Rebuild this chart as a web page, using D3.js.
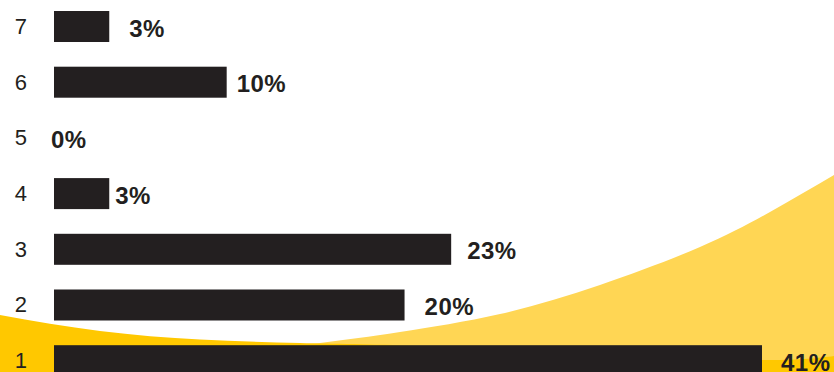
<!DOCTYPE html>
<html>
<head>
<meta charset="utf-8">
<script src="https://cdn.jsdelivr.net/npm/d3@7"></script>
<style>
  html, body { margin: 0; padding: 0; background: #ffffff; }
  svg { display: block; }
</style>
</head>
<body>
<svg id="chart" width="834" height="372"></svg>
<script>
// ---- data ----
const categories = ["7", "6", "5", "4", "3", "2", "1"];
const values = [3.2, 10, 0, 3.2, 23, 20.3, 41];          // share of respondents, %
const valueLabels = ["3%", "10%", "0%", "3%", "23%", "20%", "41%"];
// label nudges (px, relative to bar end) – layout only
const labelNudge = [20, 10, -3, 6, 16, 20, 19];

const W = 834, H = 372;
const ink = "#231F20";
const svg = d3.select("#chart");

// ---- decorative background swooshes ----
const curve = d3.line().curve(d3.curveNatural);
const lightPts = [[240, 352], [320, 343], [400, 332], [500, 314], [600, 285], [700, 247], [770, 212], [834, 175]];
svg.append("path")
  .attr("d", curve(lightPts) + `L${W},${H}L240,${H}Z`)
  .attr("fill", "#FFD654");

const darkPts = [[0, 315], [100, 331], [200, 339.5], [300, 343], [420, 346], [600, 354], [762, 360], [834, 356]];
svg.append("path")
  .attr("d", curve(darkPts) + `L${W},${H}L0,${H}Z`)
  .attr("fill", "#FFC800");

// ---- scales ----
const x = d3.scaleLinear().domain([0, 41]).range([54, 762]);
const y = d3.scaleBand().domain(categories).range([0, 387.2])
  .paddingInner(0.4434).paddingOuter(0.1975);

const data = categories.map((c, i) => ({ c, v: values[i], label: valueLabels[i], nudge: labelNudge[i] }));

// ---- bars ----
svg.append("g").selectAll("rect").data(data).join("rect")
  .attr("x", x(0))
  .attr("y", d => y(d.c))
  .attr("width", d => x(d.v) - x(0))
  .attr("height", y.bandwidth())
  .attr("fill", ink);

// ---- category axis labels ----
const yAxis = d3.axisLeft(y).tickSize(0).tickPadding(0);
const gy = svg.append("g").attr("transform", "translate(27,0)").call(yAxis);
gy.select(".domain").remove();
gy.selectAll("text")
  .attr("dy", null)
  .attr("y", 7.5)
  .attr("fill", ink)
  .attr("font-family", "'Liberation Sans', Arial, Helvetica, sans-serif")
  .attr("font-size", 22)
  .attr("text-anchor", "end");

// ---- value labels ----
svg.append("g").selectAll("text").data(data).join("text")
  .attr("x", d => x(d.v) + d.nudge)
  .attr("y", d => y(d.c) + y.bandwidth() / 2 + 10)
  .attr("fill", ink)
  .attr("font-family", "'Liberation Sans', Arial, Helvetica, sans-serif")
  .attr("font-weight", "bold")
  .attr("font-size", 24)
  .style("letter-spacing", "0.5px")
  .text(d => d.label);
</script>
</body>
</html>
